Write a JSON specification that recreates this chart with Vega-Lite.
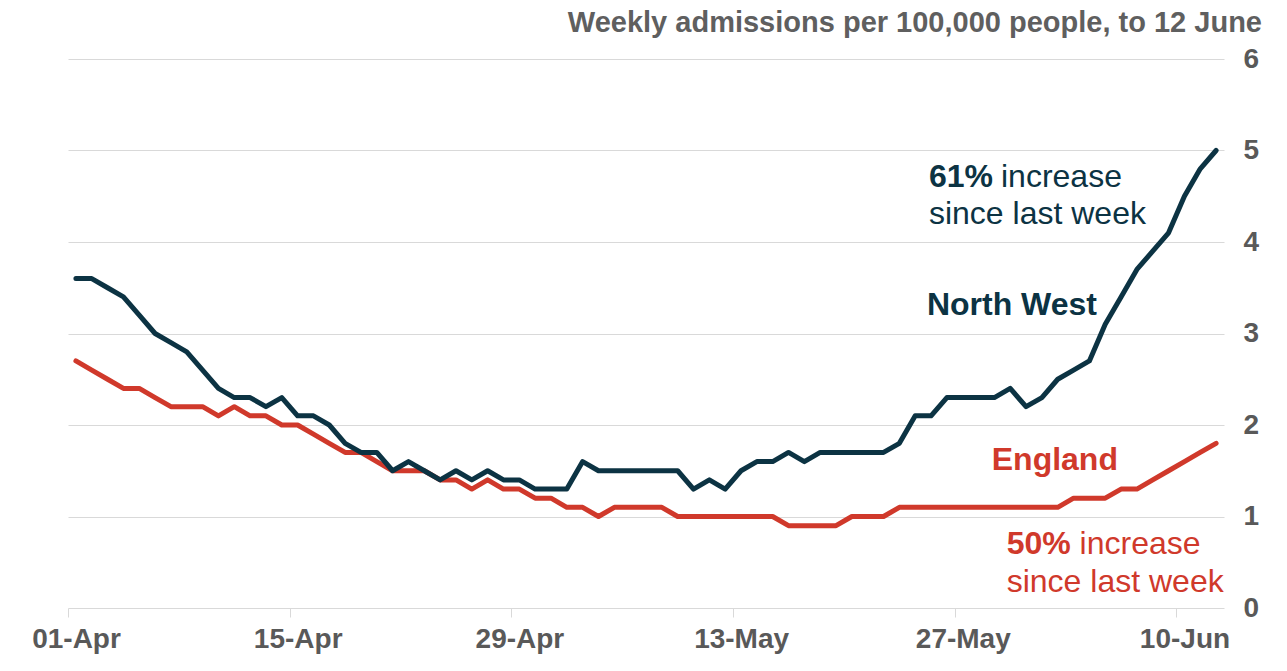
{
  "$schema": "https://vega.github.io/schema/vega-lite/v6.json",
  "width": 1156,
  "height": 549,
  "autosize": {"type": "none"},
  "padding": {"left": 68, "top": 59, "right": 63, "bottom": 63},
  "background": "white",
  "title": {
    "text": "Weekly admissions per 100,000 people, to 12 June",
    "anchor": "end",
    "frame": "group",
    "dx": 38,
    "offset": 7,
    "fontSize": 29,
    "fontWeight": "bold",
    "color": "#5f5f5f",
    "font": "Liberation Sans"
  },
  "config": {"view": {"stroke": null}, "font": "Liberation Sans"},
  "datasets": {
    "series": [
      {"date": "2021-04-01", "region": "North West", "value": 3.6},
      {"date": "2021-04-02", "region": "North West", "value": 3.6},
      {"date": "2021-04-03", "region": "North West", "value": 3.5},
      {"date": "2021-04-04", "region": "North West", "value": 3.4},
      {"date": "2021-04-05", "region": "North West", "value": 3.2},
      {"date": "2021-04-06", "region": "North West", "value": 3.0},
      {"date": "2021-04-07", "region": "North West", "value": 2.9},
      {"date": "2021-04-08", "region": "North West", "value": 2.8},
      {"date": "2021-04-09", "region": "North West", "value": 2.6},
      {"date": "2021-04-10", "region": "North West", "value": 2.4},
      {"date": "2021-04-11", "region": "North West", "value": 2.3},
      {"date": "2021-04-12", "region": "North West", "value": 2.3},
      {"date": "2021-04-13", "region": "North West", "value": 2.2},
      {"date": "2021-04-14", "region": "North West", "value": 2.3},
      {"date": "2021-04-15", "region": "North West", "value": 2.1},
      {"date": "2021-04-16", "region": "North West", "value": 2.1},
      {"date": "2021-04-17", "region": "North West", "value": 2.0},
      {"date": "2021-04-18", "region": "North West", "value": 1.8},
      {"date": "2021-04-19", "region": "North West", "value": 1.7},
      {"date": "2021-04-20", "region": "North West", "value": 1.7},
      {"date": "2021-04-21", "region": "North West", "value": 1.5},
      {"date": "2021-04-22", "region": "North West", "value": 1.6},
      {"date": "2021-04-23", "region": "North West", "value": 1.5},
      {"date": "2021-04-24", "region": "North West", "value": 1.4},
      {"date": "2021-04-25", "region": "North West", "value": 1.5},
      {"date": "2021-04-26", "region": "North West", "value": 1.4},
      {"date": "2021-04-27", "region": "North West", "value": 1.5},
      {"date": "2021-04-28", "region": "North West", "value": 1.4},
      {"date": "2021-04-29", "region": "North West", "value": 1.4},
      {"date": "2021-04-30", "region": "North West", "value": 1.3},
      {"date": "2021-05-01", "region": "North West", "value": 1.3},
      {"date": "2021-05-02", "region": "North West", "value": 1.3},
      {"date": "2021-05-03", "region": "North West", "value": 1.6},
      {"date": "2021-05-04", "region": "North West", "value": 1.5},
      {"date": "2021-05-05", "region": "North West", "value": 1.5},
      {"date": "2021-05-06", "region": "North West", "value": 1.5},
      {"date": "2021-05-07", "region": "North West", "value": 1.5},
      {"date": "2021-05-08", "region": "North West", "value": 1.5},
      {"date": "2021-05-09", "region": "North West", "value": 1.5},
      {"date": "2021-05-10", "region": "North West", "value": 1.3},
      {"date": "2021-05-11", "region": "North West", "value": 1.4},
      {"date": "2021-05-12", "region": "North West", "value": 1.3},
      {"date": "2021-05-13", "region": "North West", "value": 1.5},
      {"date": "2021-05-14", "region": "North West", "value": 1.6},
      {"date": "2021-05-15", "region": "North West", "value": 1.6},
      {"date": "2021-05-16", "region": "North West", "value": 1.7},
      {"date": "2021-05-17", "region": "North West", "value": 1.6},
      {"date": "2021-05-18", "region": "North West", "value": 1.7},
      {"date": "2021-05-19", "region": "North West", "value": 1.7},
      {"date": "2021-05-20", "region": "North West", "value": 1.7},
      {"date": "2021-05-21", "region": "North West", "value": 1.7},
      {"date": "2021-05-22", "region": "North West", "value": 1.7},
      {"date": "2021-05-23", "region": "North West", "value": 1.8},
      {"date": "2021-05-24", "region": "North West", "value": 2.1},
      {"date": "2021-05-25", "region": "North West", "value": 2.1},
      {"date": "2021-05-26", "region": "North West", "value": 2.3},
      {"date": "2021-05-27", "region": "North West", "value": 2.3},
      {"date": "2021-05-28", "region": "North West", "value": 2.3},
      {"date": "2021-05-29", "region": "North West", "value": 2.3},
      {"date": "2021-05-30", "region": "North West", "value": 2.4},
      {"date": "2021-05-31", "region": "North West", "value": 2.2},
      {"date": "2021-06-01", "region": "North West", "value": 2.3},
      {"date": "2021-06-02", "region": "North West", "value": 2.5},
      {"date": "2021-06-03", "region": "North West", "value": 2.6},
      {"date": "2021-06-04", "region": "North West", "value": 2.7},
      {"date": "2021-06-05", "region": "North West", "value": 3.1},
      {"date": "2021-06-06", "region": "North West", "value": 3.4},
      {"date": "2021-06-07", "region": "North West", "value": 3.7},
      {"date": "2021-06-08", "region": "North West", "value": 3.9},
      {"date": "2021-06-09", "region": "North West", "value": 4.1},
      {"date": "2021-06-10", "region": "North West", "value": 4.5},
      {"date": "2021-06-11", "region": "North West", "value": 4.8},
      {"date": "2021-06-12", "region": "North West", "value": 5.0},
      {"date": "2021-04-01", "region": "England", "value": 2.7},
      {"date": "2021-04-02", "region": "England", "value": 2.6},
      {"date": "2021-04-03", "region": "England", "value": 2.5},
      {"date": "2021-04-04", "region": "England", "value": 2.4},
      {"date": "2021-04-05", "region": "England", "value": 2.4},
      {"date": "2021-04-06", "region": "England", "value": 2.3},
      {"date": "2021-04-07", "region": "England", "value": 2.2},
      {"date": "2021-04-08", "region": "England", "value": 2.2},
      {"date": "2021-04-09", "region": "England", "value": 2.2},
      {"date": "2021-04-10", "region": "England", "value": 2.1},
      {"date": "2021-04-11", "region": "England", "value": 2.2},
      {"date": "2021-04-12", "region": "England", "value": 2.1},
      {"date": "2021-04-13", "region": "England", "value": 2.1},
      {"date": "2021-04-14", "region": "England", "value": 2.0},
      {"date": "2021-04-15", "region": "England", "value": 2.0},
      {"date": "2021-04-16", "region": "England", "value": 1.9},
      {"date": "2021-04-17", "region": "England", "value": 1.8},
      {"date": "2021-04-18", "region": "England", "value": 1.7},
      {"date": "2021-04-19", "region": "England", "value": 1.7},
      {"date": "2021-04-20", "region": "England", "value": 1.6},
      {"date": "2021-04-21", "region": "England", "value": 1.5},
      {"date": "2021-04-22", "region": "England", "value": 1.5},
      {"date": "2021-04-23", "region": "England", "value": 1.5},
      {"date": "2021-04-24", "region": "England", "value": 1.4},
      {"date": "2021-04-25", "region": "England", "value": 1.4},
      {"date": "2021-04-26", "region": "England", "value": 1.3},
      {"date": "2021-04-27", "region": "England", "value": 1.4},
      {"date": "2021-04-28", "region": "England", "value": 1.3},
      {"date": "2021-04-29", "region": "England", "value": 1.3},
      {"date": "2021-04-30", "region": "England", "value": 1.2},
      {"date": "2021-05-01", "region": "England", "value": 1.2},
      {"date": "2021-05-02", "region": "England", "value": 1.1},
      {"date": "2021-05-03", "region": "England", "value": 1.1},
      {"date": "2021-05-04", "region": "England", "value": 1.0},
      {"date": "2021-05-05", "region": "England", "value": 1.1},
      {"date": "2021-05-06", "region": "England", "value": 1.1},
      {"date": "2021-05-07", "region": "England", "value": 1.1},
      {"date": "2021-05-08", "region": "England", "value": 1.1},
      {"date": "2021-05-09", "region": "England", "value": 1.0},
      {"date": "2021-05-10", "region": "England", "value": 1.0},
      {"date": "2021-05-11", "region": "England", "value": 1.0},
      {"date": "2021-05-12", "region": "England", "value": 1.0},
      {"date": "2021-05-13", "region": "England", "value": 1.0},
      {"date": "2021-05-14", "region": "England", "value": 1.0},
      {"date": "2021-05-15", "region": "England", "value": 1.0},
      {"date": "2021-05-16", "region": "England", "value": 0.9},
      {"date": "2021-05-17", "region": "England", "value": 0.9},
      {"date": "2021-05-18", "region": "England", "value": 0.9},
      {"date": "2021-05-19", "region": "England", "value": 0.9},
      {"date": "2021-05-20", "region": "England", "value": 1.0},
      {"date": "2021-05-21", "region": "England", "value": 1.0},
      {"date": "2021-05-22", "region": "England", "value": 1.0},
      {"date": "2021-05-23", "region": "England", "value": 1.1},
      {"date": "2021-05-24", "region": "England", "value": 1.1},
      {"date": "2021-05-25", "region": "England", "value": 1.1},
      {"date": "2021-05-26", "region": "England", "value": 1.1},
      {"date": "2021-05-27", "region": "England", "value": 1.1},
      {"date": "2021-05-28", "region": "England", "value": 1.1},
      {"date": "2021-05-29", "region": "England", "value": 1.1},
      {"date": "2021-05-30", "region": "England", "value": 1.1},
      {"date": "2021-05-31", "region": "England", "value": 1.1},
      {"date": "2021-06-01", "region": "England", "value": 1.1},
      {"date": "2021-06-02", "region": "England", "value": 1.1},
      {"date": "2021-06-03", "region": "England", "value": 1.2},
      {"date": "2021-06-04", "region": "England", "value": 1.2},
      {"date": "2021-06-05", "region": "England", "value": 1.2},
      {"date": "2021-06-06", "region": "England", "value": 1.3},
      {"date": "2021-06-07", "region": "England", "value": 1.3},
      {"date": "2021-06-08", "region": "England", "value": 1.4},
      {"date": "2021-06-09", "region": "England", "value": 1.5},
      {"date": "2021-06-10", "region": "England", "value": 1.6},
      {"date": "2021-06-11", "region": "England", "value": 1.7},
      {"date": "2021-06-12", "region": "England", "value": 1.8}
    ],
    "notes": [
      {"date": "2021-05-25T08:50:00Z", "value": 4.6, "text": "61%", "region": "North West", "weight": "bold"},
      {"date": "2021-05-29T22:00:00Z", "value": 4.6, "text": "increase", "region": "North West", "weight": "normal"},
      {"date": "2021-05-25T08:50:00Z", "value": 4.2, "text": "since last week", "region": "North West", "weight": "normal"},
      {"date": "2021-05-25T05:45:00Z", "value": 3.2, "text": "North West", "region": "North West", "weight": "bold"},
      {"date": "2021-05-29T08:00:00Z", "value": 1.51, "text": "England", "region": "England", "weight": "bold"},
      {"date": "2021-05-30T06:40:00Z", "value": 0.59, "text": "50%", "region": "England", "weight": "bold"},
      {"date": "2021-06-03T21:10:00Z", "value": 0.59, "text": "increase", "region": "England", "weight": "normal"},
      {"date": "2021-05-30T06:40:00Z", "value": 0.18, "text": "since last week", "region": "England", "weight": "normal"}
    ]
  },
  "encoding": {
    "y": {
      "field": "value",
      "type": "quantitative",
      "scale": {"domain": [0, 6]},
      "axis": {
        "orient": "right",
        "title": null,
        "values": [0, 1, 2, 3, 4, 5, 6],
        "grid": true,
        "gridColor": "#d9d9d9",
        "gridWidth": 1,
        "domain": false,
        "ticks": false,
        "labelFontSize": 28,
        "labelFontWeight": "bold",
        "labelColor": "#595959",
        "labelFont": "Liberation Sans",
        "labelPadding": 19
      }
    },
    "color": {
      "field": "region",
      "type": "nominal",
      "scale": {"domain": ["North West", "England"], "range": ["#0c3343", "#d0392b"]},
      "legend": null
    }
  },
  "layer": [
    {
      "data": {"name": "series"},
      "transform": [{"filter": "datum.region === 'England'"}],
      "mark": {"type": "line", "strokeWidth": 5, "strokeCap": "round", "strokeJoin": "round"},
      "encoding": {
        "x": {
          "field": "date",
          "type": "temporal",
          "timeUnit": "utcyearmonthdate",
          "bandPosition": 0.5,
          "scale": {"domain": [1617235200000, 1623542400000]},
          "axis": {
            "title": null,
            "values": [1617235200000, 1618444800000, 1619654400000, 1620864000000, 1622073600000, 1623283200000],
            "labelExpr": "utcFormat(datum.value, '%d-%b')",
            "labelOverlap": false,
            "labelFlush": false,
            "labelOffset": 8,
            "grid": false,
            "domain": false,
            "ticks": true,
            "tickColor": "#d9d9d9",
            "tickSize": 9,
            "labelPadding": 8,
            "labelFontSize": 28,
            "labelFontWeight": "bold",
            "labelColor": "#595959",
            "labelFont": "Liberation Sans"
          }
        }
      }
    },
    {
      "data": {"name": "series"},
      "transform": [{"filter": "datum.region === 'North West'"}],
      "mark": {"type": "line", "strokeWidth": 5, "strokeCap": "round", "strokeJoin": "round"},
      "encoding": {
        "x": {"field": "date", "type": "temporal", "timeUnit": "utcyearmonthdate", "bandPosition": 0.5}
      }
    },
    {
      "data": {"name": "notes"},
      "transform": [{"filter": "datum.weight === 'bold'"}],
      "mark": {"type": "text", "align": "left", "baseline": "alphabetic", "fontSize": 32, "fontWeight": "bold", "font": "Liberation Sans"},
      "encoding": {
        "x": {"field": "date", "type": "temporal"},
        "text": {"field": "text"}
      }
    },
    {
      "data": {"name": "notes"},
      "transform": [{"filter": "datum.weight === 'normal'"}],
      "mark": {"type": "text", "align": "left", "baseline": "alphabetic", "fontSize": 32, "fontWeight": "normal", "font": "Liberation Sans"},
      "encoding": {
        "x": {"field": "date", "type": "temporal"},
        "text": {"field": "text"}
      }
    }
  ]
}
